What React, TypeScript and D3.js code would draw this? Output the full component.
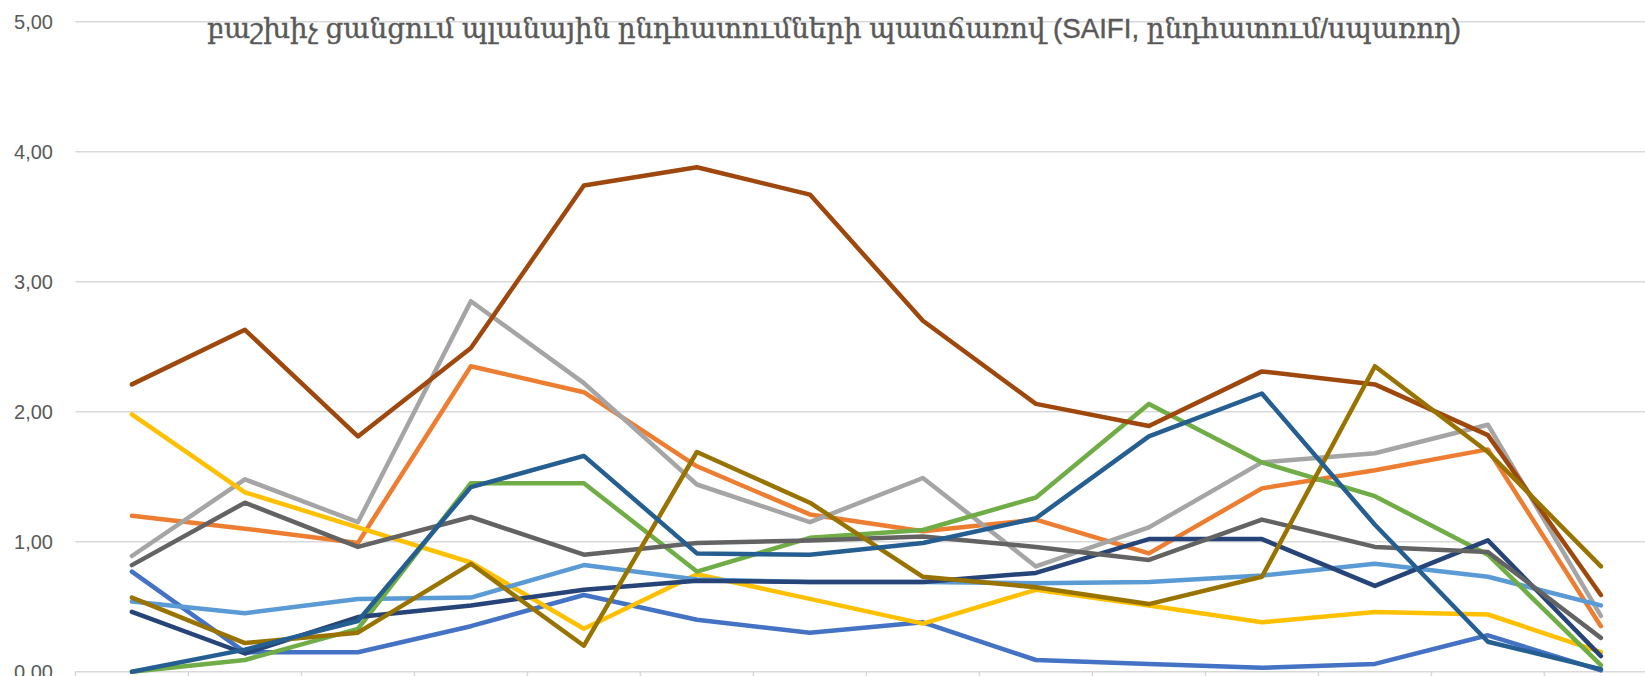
import React from "react";
import * as d3 from "d3";

const categories = ["1", "2", "3", "4", "5", "6", "7", "8", "9", "10", "11", "12", "13", "14"];
const yTicks = [0, 1, 2, 3, 4, 5];
const titleLine2 = "բաշխիչ ցանցում պլանային ընդհատումների պատճառով (SAIFI, ընդհատում/սպառող)";

const sBlue = [0.77, 0.15, 0.15, 0.35, 0.59, 0.40, 0.30, 0.38, 0.09, 0.06, 0.03, 0.06, 0.28, 0.01];
const sOrange = [1.20, 1.10, 0.99, 2.35, 2.15, 1.58, 1.21, 1.08, 1.17, 0.91, 1.41, 1.55, 1.71, 0.35];
const sGray = [0.89, 1.48, 1.15, 2.85, 2.22, 1.44, 1.15, 1.49, 0.81, 1.11, 1.61, 1.68, 1.90, 0.43];
const sYellow = [1.98, 1.38, 1.11, 0.84, 0.33, 0.75, 0.56, 0.37, 0.63, 0.51, 0.38, 0.46, 0.44, 0.15];
const sLightBlue = [0.54, 0.45, 0.56, 0.57, 0.82, 0.71, 0.69, 0.69, 0.68, 0.69, 0.74, 0.83, 0.73, 0.51];
const sGreen = [0.00, 0.09, 0.33, 1.45, 1.45, 0.77, 1.03, 1.09, 1.34, 2.06, 1.61, 1.35, 0.90, 0.05];
const sNavy = [0.46, 0.14, 0.42, 0.51, 0.63, 0.70, 0.69, 0.69, 0.76, 1.02, 1.02, 0.66, 1.01, 0.12];
const sBrown = [2.21, 2.63, 1.81, 2.49, 3.74, 3.88, 3.67, 2.70, 2.06, 1.89, 2.31, 2.21, 1.82, 0.59];
const sDarkGray = [0.82, 1.30, 0.96, 1.19, 0.90, 0.99, 1.01, 1.04, 0.96, 0.86, 1.17, 0.96, 0.92, 0.26];
const sOlive = [0.57, 0.22, 0.30, 0.83, 0.20, 1.69, 1.30, 0.73, 0.65, 0.52, 0.73, 2.35, 1.69, 0.81];
const sTeal = [0.00, 0.17, 0.39, 1.42, 1.66, 0.91, 0.90, 0.99, 1.18, 1.81, 2.14, 1.13, 0.23, 0.02];

const series = [
  { values: sBlue, color: "#4472C4" },
  { values: sOrange, color: "#ED7D31" },
  { values: sGray, color: "#A5A5A5" },
  { values: sYellow, color: "#FFC000" },
  { values: sLightBlue, color: "#5B9BD5" },
  { values: sGreen, color: "#70AD47" },
  { values: sNavy, color: "#264478" },
  { values: sBrown, color: "#9E480E" },
  { values: sDarkGray, color: "#636363" },
  { values: sOlive, color: "#997300" },
  { values: sTeal, color: "#255E91" },
];

const W = 1645;
const H = 676;
const left = 75.4;
const step = 113;

export default function App() {
  const x = d3
    .scaleBand<string>()
    .domain(categories)
    .range([left, left + step * categories.length])
    .paddingInner(0)
    .paddingOuter(0);
  const y = d3.scaleLinear().domain([0, 5]).range([671.7, 21.7]);
  const cx = (c: string) => (x(c) as number) + x.bandwidth() / 2;
  const line = d3
    .line<number>()
    .x((_, i) => cx(categories[i]))
    .y((d) => y(d));

  const boundaries = categories.map((c) => x(c) as number).concat([left + step * categories.length]);

  return (
    <svg
      width={W}
      height={H}
      style={{ position: "absolute", left: 0, top: 0, background: "#fff" }}
    >
      <rect x={0} y={0} width={W} height={H} fill="#fff" />
      {yTicks.map((t) => (
        <line
          key={"g" + t}
          x1={left}
          x2={left + step * categories.length}
          y1={y(t)}
          y2={y(t)}
          stroke="#D9D9D9"
          strokeWidth={1.6}
        />
      ))}
      {boundaries.map((b, i) => (
        <line key={"t" + i} x1={b} x2={b} y1={y(0)} y2={y(0) + 6} stroke="#D9D9D9" strokeWidth={1.6} />
      ))}
      {yTicks.map((t) => (
        <text
          key={"l" + t}
          x={53}
          y={y(t)}
          dy="0.36em"
          textAnchor="end"
          fontFamily="'Liberation Sans', Arial, sans-serif"
          fontSize={20}
          fill="#595959"
        >
          {d3.format(".2f")(t).replace(".", ",")}
        </text>
      ))}
      <text
        x={834}
        y={38}
        textAnchor="middle"
        fontFamily="'Liberation Sans', 'DejaVu Serif', serif"
        fontSize={27}
        fill="#595959"
        stroke="#595959"
        strokeWidth={0.4}
        textLength={1254}
        lengthAdjust="spacingAndGlyphs"
      >
        {titleLine2}
      </text>
      {series.map((s, i) => (
        <path
          key={"s" + i}
          d={line(s.values) || ""}
          fill="none"
          stroke={s.color}
          strokeWidth={4.5}
          strokeLinejoin="round"
          strokeLinecap="round"
        />
      ))}
    </svg>
  );
}
